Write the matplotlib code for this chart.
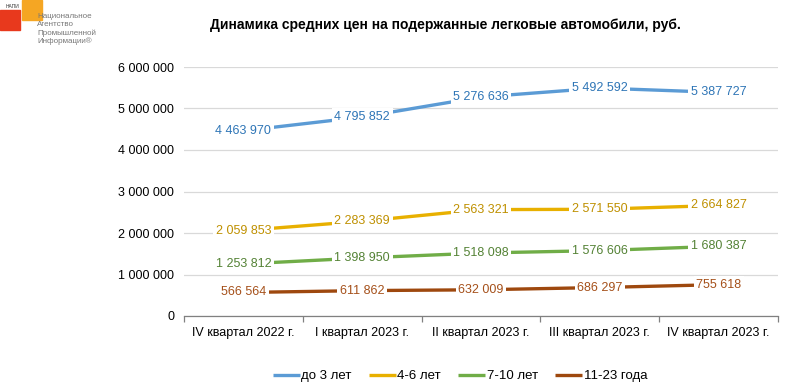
import matplotlib
matplotlib.use('Agg')
import matplotlib.pyplot as plt
from matplotlib.patches import Rectangle
from matplotlib.ticker import FuncFormatter, FixedLocator, NullFormatter

plt.rcParams['font.family'] = ['Liberation Sans', 'DejaVu Sans']

quarters = ['IV квартал 2022 г.', 'I квартал 2023 г.', 'II квартал 2023 г.',
            'III квартал 2023 г.', 'IV квартал 2023 г.']
series_names = ['до 3 лет', '4-6 лет', '7-10 лет', '11-23 года']
up_to_3 = [4463970, 4795852, 5276636, 5492592, 5387727]
from_4_to_6 = [2059853, 2283369, 2563321, 2571550, 2664827]
from_7_to_10 = [1253812, 1398950, 1518098, 1576606, 1680387]
from_11_to_23 = [566564, 611862, 632009, 686297, 755618]

line_colors = ['#5B9BD5', '#E8B000', '#70AD47', '#9E480E']
text_colors = ['#2E75B6', '#BF9000', '#548235', '#A5501A']


def fmt(v):
    return f'{int(v):,}'.replace(',', ' ')


fig = plt.figure(figsize=(7.98, 3.88), dpi=100)
ax = fig.add_axes([184 / 798, 1 - 316 / 388, (778 - 184) / 798, 249 / 388])

xs = list(range(len(quarters)))
all_series = [up_to_3, from_4_to_6, from_7_to_10, from_11_to_23]
for vals, name, lc, tc in zip(all_series, series_names, line_colors, text_colors):
    ax.plot(xs, vals, color=lc, lw=2.4, solid_capstyle='butt', label=name, zorder=2)
    for x, v in zip(xs, vals):
        ax.text(x, v, fmt(v), color=tc, fontsize=9, ha='center', va='center', zorder=3,
                bbox=dict(boxstyle='square,pad=0.2', fc='white', ec='none'))

ax.set_xlim(-0.5, len(quarters) - 0.5)
ax.set_ylim(0, 6000000)
ax.set_yticks(range(0, 6000001, 1000000))
ax.yaxis.set_major_formatter(FuncFormatter(lambda v, p: fmt(v)))
ax.yaxis.grid(True, color='#D9D9D9', lw=0.9)
ax.set_axisbelow(True)
ax.tick_params(axis='y', length=0, pad=7, labelsize=9)

ax.set_xticks(xs)
ax.set_xticklabels(quarters, fontsize=9)
ax.tick_params(axis='x', which='major', length=0, pad=8)
ax.xaxis.set_minor_locator(FixedLocator([i + 0.5 for i in range(-1, len(quarters))]))
ax.xaxis.set_minor_formatter(NullFormatter())
ax.tick_params(axis='x', which='minor', length=4, color='#808080', width=0.9)

for s in ['top', 'right', 'left']:
    ax.spines[s].set_visible(False)
ax.spines['bottom'].set_color('#808080')
ax.spines['bottom'].set_linewidth(0.9)

fig.text(445 / 798, 1 - 25 / 388, 'Динамика средних цен на подержанные легковые автомобили, руб.',
         ha='center', va='center', fontsize=10, fontweight='bold')

fig.legend(loc='center', bbox_to_anchor=(460 / 798, 1 - 376 / 388), ncol=4, frameon=False,
           fontsize=9.5, handlelength=2.05, handletextpad=0.12, columnspacing=1.3)

# logo
fig.patches.append(Rectangle((0, 1 - 30 / 388), 20 / 798, 20 / 388, transform=fig.transFigure,
                             color='#E8391D', zorder=0))
fig.patches.append(Rectangle((22 / 798, 1 - 20 / 388), 20 / 798, 20 / 388, transform=fig.transFigure,
                             color='#F5A623', zorder=0))
fig.text(6 / 798, 1 - 6 / 388, 'НАПИ', fontsize=3.5, color='#333333', va='center')
fig.text(37 / 798, 1 - 13 / 388, 'Национальное\nАгентство\nПромышленной\nИнформации®',
         fontsize=5.8, color='#777777', va='top', linespacing=1.2)

fig.savefig('out.png', dpi=100)
